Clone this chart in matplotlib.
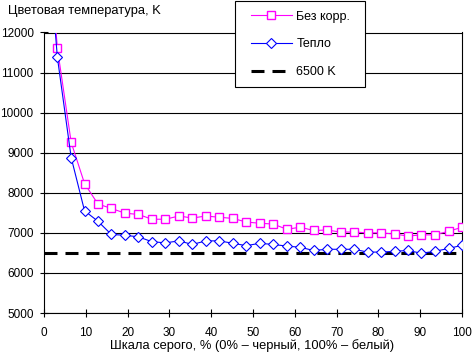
import matplotlib
matplotlib.use('Agg')
import matplotlib.pyplot as plt
from matplotlib.patches import Rectangle

# grey level, %, and colour temperature (K) for both modes
grey = [0, 3.2, 6.5, 9.7, 12.9, 16.1, 19.4, 22.6, 25.8, 29.0, 32.3, 35.5, 38.7, 41.9, 45.2, 48.4,
        51.6, 54.8, 58.1, 61.3, 64.5, 67.7, 71.0, 74.2, 77.4, 80.6, 83.9, 87.1, 90.3, 93.5, 96.8, 100]
bez_korr = [15800, 11610, 9260, 8230, 7720, 7610, 7490, 7460, 7340, 7340, 7420, 7370, 7420, 7390, 7360, 7270,
            7240, 7220, 7090, 7140, 7060, 7070, 7020, 7020, 7000, 7000, 6970, 6920, 6950, 6950, 7040, 7140]
teplo = [15500, 11380, 8880, 7550, 7290, 6960, 6940, 6900, 6780, 6750, 6800, 6710, 6800, 6800, 6740, 6680,
         6740, 6710, 6670, 6640, 6560, 6590, 6590, 6590, 6520, 6520, 6540, 6560, 6490, 6540, 6610, 6690]
ref_x = [0, 100]
ref_k = [6500, 6500]

plt.rcParams['font.family'] = ['Liberation Sans', 'DejaVu Sans']

W, H = 472, 354
fig = plt.figure(figsize=(W / 100, H / 100), dpi=100)
ax = fig.add_axes([44 / W, 41 / H, 418 / W, 280.5 / H])

ax.plot(ref_x, ref_k, color='black', lw=2.2, dashes=(4.25, 2.62), label='6500 K', zorder=2)
ax.plot(grey, bez_korr, color='#FF00FF', lw=0.8, marker='s', ms=5.5, mfc='white', mec='#FF00FF',
        mew=1.0, label='Без корр.', zorder=3)
ax.plot(grey, teplo, color='#0000FF', lw=0.8, marker='D', ms=5, mfc='white', mec='#0000FF',
        mew=0.8, label='Тепло', zorder=4)

ax.set_xlim(0, 100)
ax.set_ylim(5000, 12000)
ax.set_xticks(range(0, 101, 10))
ax.set_yticks(range(5000, 12001, 1000))
ax.yaxis.grid(True, color='black', lw=0.8)
ax.set_axisbelow(True)
for s in ax.spines.values():
    s.set_color('black')
    s.set_linewidth(0.8)
ax.tick_params(direction='inout', length=6, width=0.8, labelsize=8.5)
ax.tick_params(axis='y', pad=4.5)
ax.tick_params(axis='x', pad=7)

fig.text(8 / W, 1 - 11 / H, 'Цветовая температура, K', fontsize=9.3, va='center', ha='left')
fig.text(252 / W, 1 - 346 / H, 'Шкала серого, % (0% – черный, 100% – белый)', fontsize=9.3,
         va='center', ha='center')

# legend box
fig.add_artist(Rectangle((235 / W, 1 - 87 / H), 130 / W, 86 / H, transform=fig.transFigure,
                         facecolor='white', edgecolor='black', lw=0.8, zorder=4))
h, l = ax.get_legend_handles_labels()
order = [1, 2, 0]
leg = fig.legend([h[i] for i in order], [l[i] for i in order],
                 loc='upper left', bbox_to_anchor=(242 / W, 1 - 2 / H), bbox_transform=fig.transFigure,
                 frameon=False, handlelength=3.3, labelspacing=1.25, borderpad=0.2,
                 handletextpad=0.35, fontsize=9)
leg.set_zorder(6)

fig.savefig('out.png', dpi=100)
